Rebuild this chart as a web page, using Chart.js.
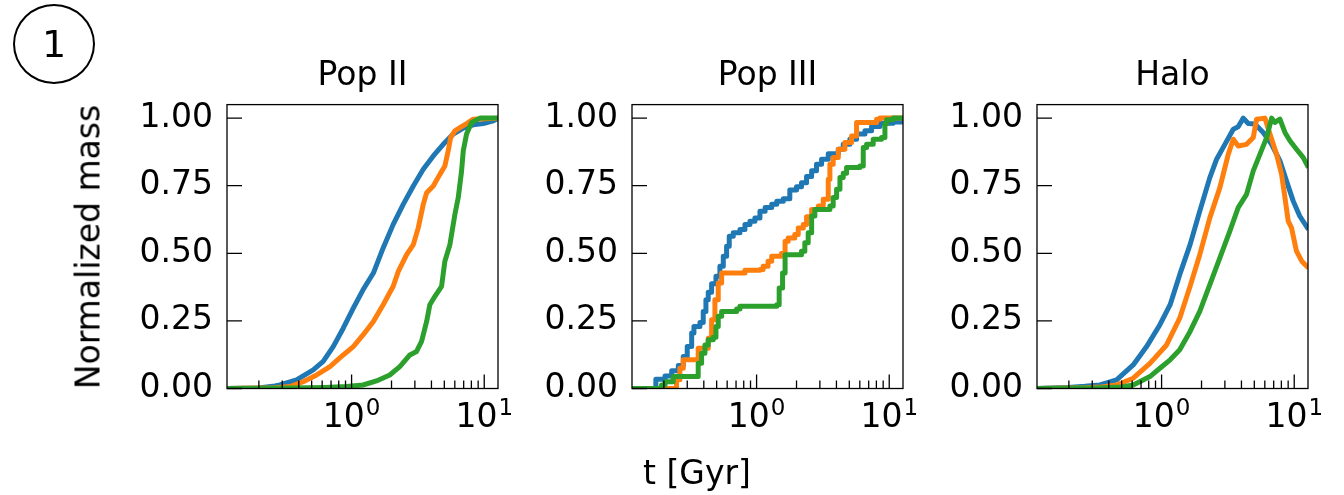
<!DOCTYPE html>
<html>
<head>
<meta charset="utf-8">
<script src="https://cdn.jsdelivr.net/npm/chart.js@4.4.1/dist/chart.umd.min.js"></script>
<style>
    html, body { margin: 0; padding: 0; background: #fff; }
    #wrap { position: relative; width: 1344px; height: 495px; overflow: hidden; font-family: 'DejaVu Sans', sans-serif; color: #000; }
    #wrap canvas { position: absolute; left: 0; top: 0; }
    .badge { position: absolute; left: 13px; top: 4px; width: 78px; height: 76px; border: 2px solid #000; border-radius: 50%; text-align: center; line-height: 76px; font-size: 38px; }
    .ylab { position: absolute; left: 88px; top: 247px; font-size: 33px; white-space: nowrap; transform: translate(-50%, -50%) rotate(-90deg); }
    .xlab { position: absolute; left: 697px; top: 472px; font-size: 33px; white-space: nowrap; transform: translate(-50%, -50%); }
</style>
</head>
<body>
<div id="wrap">
    <canvas id="popII" width="1344" height="495"></canvas>
    <canvas id="popIII" width="1344" height="495"></canvas>
    <canvas id="halo" width="1344" height="495"></canvas>
    <div class="badge">1</div>
    <div class="ylab">Normalized mass</div>
    <div class="xlab">t [Gyr]</div>
</div>
<script>
// Normalized mass vs time, three panels

// Axis ticks
const yTickValues = [0, 0.25, 0.5, 0.75, 1.0];
const xMajorTicks = [1, 10];
const xMajorExponents = ['0', '1'];
const xMinorTicks = [0.2, 0.3, 0.4, 0.5, 0.6, 0.7, 0.8, 0.9, 2, 3, 4, 5, 6, 7, 8, 9];
const panelTitles = ['Pop II', 'Pop III', 'Halo'];

// Pop II
const p2BlueT = [0.111, 0.198, 0.264, 0.288, 0.385, 0.514, 0.611, 0.727, 0.865, 1.03, 1.22, 1.46, 1.73, 2.06, 2.45, 2.92, 3.47, 4.13, 4.91, 5.84, 6.95, 8.26, 9.83, 11.7, 12.8];
const p2BlueY = [0, 0.002, 0.009, 0.013, 0.032, 0.069, 0.10, 0.155, 0.223, 0.297, 0.365, 0.427, 0.52, 0.607, 0.681, 0.749, 0.811, 0.86, 0.903, 0.941, 0.963, 0.975, 0.98, 0.99, 1.0];
const p2OrangeT = [0.111, 0.264, 0.343, 0.432, 0.545, 0.687, 0.865, 1.03, 1.22, 1.46, 1.73, 2.06, 2.25, 2.60, 2.92, 3.18, 3.47, 3.68, 4.13, 4.63, 5.05, 5.35, 5.58, 6.01, 6.56, 7.36, 8.26, 12.8];
const p2OrangeY = [0, 0.003, 0.007, 0.025, 0.05, 0.081, 0.124, 0.155, 0.198, 0.248, 0.31, 0.378, 0.433, 0.495, 0.532, 0.594, 0.681, 0.724, 0.749, 0.792, 0.823, 0.879, 0.928, 0.953, 0.965, 0.98, 0.996, 1.0];
const p2GreenT = [0.111, 0.353, 0.63, 0.917, 1.22, 1.54, 1.94, 2.31, 2.75, 3.09, 3.37, 3.68, 3.89, 4.25, 4.77, 5.05, 5.51, 6.01, 6.37, 6.75, 6.95, 7.36, 8.03, 9.28, 12.8];
const p2GreenY = [0, 0.002, 0.004, 0.007, 0.013, 0.028, 0.05, 0.081, 0.124, 0.137, 0.174, 0.248, 0.31, 0.341, 0.378, 0.471, 0.532, 0.644, 0.706, 0.805, 0.879, 0.941, 0.984, 1.0, 1.0];

// Pop III (step curves)
const p3BlueT = [0.111, 0.174, 0.204, 0.229, 0.257, 0.280, 0.300, 0.324, 0.337, 0.374, 0.396, 0.415, 0.432, 0.458, 0.494, 0.529, 0.561, 0.594, 0.622, 0.667, 0.749, 0.817, 0.891, 0.971, 1.06, 1.16, 1.30, 1.42, 1.59, 1.78, 2.00, 2.18, 2.38, 2.60, 2.83, 3.09, 3.47, 4.13, 4.50, 5.05, 5.67, 6.56, 7.36, 8.51, 10.7, 12.4, 12.8];
const p3BlueY = [0, 0.034, 0.046, 0.066, 0.085, 0.118, 0.155, 0.205, 0.229, 0.244, 0.285, 0.328, 0.356, 0.387, 0.415, 0.452, 0.489, 0.526, 0.563, 0.576, 0.588, 0.607, 0.619, 0.631, 0.656, 0.669, 0.681, 0.693, 0.702, 0.734, 0.746, 0.761, 0.784, 0.805, 0.829, 0.848, 0.868, 0.885, 0.903, 0.922, 0.941, 0.953, 0.969, 0.981, 0.986, 0.996, 1.0];
const p3OrangeT = [0.111, 0.249, 0.264, 0.280, 0.363, 0.432, 0.458, 0.485, 0.514, 0.545, 0.817, 1.06, 1.12, 1.22, 1.30, 1.54, 1.64, 1.73, 1.94, 2.06, 2.25, 2.38, 2.60, 2.92, 3.18, 3.47, 3.57, 3.78, 4.13, 4.63, 5.20, 5.67, 8.03, 8.51, 12.8];
const p3OrangeY = [0, 0.032, 0.075, 0.106, 0.149, 0.186, 0.254, 0.328, 0.39, 0.427, 0.437, 0.44, 0.452, 0.471, 0.489, 0.499, 0.545, 0.557, 0.57, 0.594, 0.607, 0.635, 0.662, 0.675, 0.70, 0.774, 0.829, 0.854, 0.885, 0.91, 0.934, 0.984, 0.996, 1.0, 1.0];
const p3GreenT = [0.111, 0.192, 0.204, 0.235, 0.363, 0.385, 0.408, 0.432, 0.471, 0.494, 0.514, 0.545, 0.707, 0.749, 1.42, 1.48, 1.57, 1.64, 2.18, 2.31, 2.45, 2.60, 2.75, 3.57, 3.78, 4.01, 4.25, 4.50, 4.77, 6.01, 6.37, 6.75, 7.57, 8.75, 9.28, 9.55, 10.7, 12.8];
const p3GreenY = [0, 0.013, 0.025, 0.044, 0.093, 0.13, 0.161, 0.18, 0.19, 0.229, 0.267, 0.285, 0.294, 0.304, 0.31, 0.372, 0.427, 0.495, 0.508, 0.539, 0.576, 0.638, 0.662, 0.675, 0.706, 0.737, 0.78, 0.796, 0.817, 0.823, 0.891, 0.903, 0.922, 0.928, 0.978, 0.994, 1.0, 1.0];

// Halo
const haloBlueT = [0.111, 0.198, 0.264, 0.343, 0.458, 0.611, 0.771, 0.971, 1.16, 1.37, 1.64, 1.94, 2.31, 2.60, 3.00, 3.47, 3.78, 4.13, 4.50, 5.05, 5.84, 6.75, 7.80, 8.75, 9.83, 11.0, 12.8];
const haloBlueY = [0, 0.004, 0.008, 0.013, 0.032, 0.087, 0.155, 0.236, 0.31, 0.421, 0.532, 0.656, 0.78, 0.848, 0.903, 0.959, 0.968, 1.0, 0.98, 0.978, 0.947, 0.903, 0.842, 0.767, 0.693, 0.638, 0.588];
const haloOrangeT = [0.111, 0.264, 0.353, 0.458, 0.611, 0.817, 1.09, 1.37, 1.64, 1.94, 2.31, 2.75, 3.18, 3.47, 3.78, 4.37, 4.91, 5.20, 6.01, 6.56, 7.36, 8.03, 8.51, 9.01, 9.55, 10.4, 11.4, 12.8];
const haloOrangeY = [0, 0.003, 0.006, 0.013, 0.038, 0.093, 0.161, 0.26, 0.378, 0.495, 0.631, 0.743, 0.866, 0.922, 0.897, 0.903, 0.928, 0.996, 1.0, 0.941, 0.866, 0.792, 0.706, 0.619, 0.594, 0.508, 0.471, 0.446];
const haloGreenT = [0.111, 0.353, 0.499, 0.611, 0.817, 0.971, 1.16, 1.37, 1.64, 1.94, 2.31, 2.75, 3.27, 3.78, 4.37, 4.91, 5.51, 6.19, 6.75, 7.15, 7.80, 8.51, 9.28, 10.4, 11.7, 12.8];
const haloGreenY = [0, 0.003, 0.006, 0.013, 0.044, 0.075, 0.106, 0.143, 0.211, 0.285, 0.384, 0.483, 0.582, 0.669, 0.718, 0.805, 0.866, 0.928, 1.0, 0.984, 0.996, 0.947, 0.916, 0.885, 0.854, 0.817];

// Layout
const X_MIN = 0.115, X_MAX = 12.7;
const Y_MIN = 0, Y_MAX = 1.05;
const BOX_BOTTOM = 388.5, BOX_W = 271;
const Y_AXIS_W = 100, X_AXIS_H = 50;
const colors = ['#1f77b4', '#ff7f0e', '#2ca02c'];
const FONT = "'DejaVu Sans', sans-serif";

Chart.defaults.font.family = FONT;
Chart.defaults.color = '#000';

function pts(t, y) {
    return t.map((v, i) => ({ x: v, y: y[i] }));
}

// Matplotlib-style frame, inward ticks and 10^n labels
const insideTicks = {
    id: 'insideTicks',
    afterDraw(chart) {
        const { ctx, chartArea: a, scales: { x, y } } = chart;
        ctx.save();
        ctx.strokeStyle = '#000';
        ctx.lineWidth = 1.3;
        ctx.beginPath();
        yTickValues.forEach(v => {
            const py = y.getPixelForValue(v);
            ctx.moveTo(a.left, py);
            ctx.lineTo(a.left + 15, py);
        });
        xMajorTicks.forEach(v => {
            const px = x.getPixelForValue(v);
            ctx.moveTo(px, a.bottom);
            ctx.lineTo(px, a.bottom - 14);
        });
        xMinorTicks.forEach(v => {
            const px = x.getPixelForValue(v);
            ctx.moveTo(px, a.bottom);
            ctx.lineTo(px, a.bottom - 8);
        });
        ctx.stroke();
        ctx.strokeRect(a.left, a.top, a.right - a.left, a.bottom - a.top);

        // tick labels with superscript exponent
        ctx.fillStyle = '#000';
        ctx.textBaseline = 'alphabetic';
        ctx.textAlign = 'left';
        xMajorTicks.forEach((v, i) => {
            const px = x.getPixelForValue(v);
            ctx.font = '33px ' + FONT;
            const wBase = ctx.measureText('10').width;
            ctx.font = '23px ' + FONT;
            const wExp = ctx.measureText(xMajorExponents[i]).width;
            const left = px - (wBase + wExp + 1) / 2;
            ctx.font = '33px ' + FONT;
            ctx.fillText('10', left, a.bottom + 38.5);
            ctx.font = '23px ' + FONT;
            ctx.fillText(xMajorExponents[i], left + wBase + 1, a.bottom + 26.5);
        });
        ctx.restore();
    }
};

function makePanel(id, title, boxLeft, series, stepped) {
    const ctx = document.getElementById(id).getContext('2d');
    return new Chart(ctx, {
        type: 'line',
        data: {
            datasets: series.map((s, i) => ({
                data: pts(s[0], s[1]),
                borderColor: colors[i],
                borderWidth: 5,
                borderJoinStyle: 'round',
                pointRadius: 0,
                tension: 0,
                stepped: stepped,
                order: 3 - i
            }))
        },
        options: {
            responsive: false,
            animation: false,
            events: [],
            layout: {
                padding: {
                    top: 57,
                    left: boxLeft - Y_AXIS_W,
                    right: 1344 - (boxLeft + BOX_W),
                    bottom: 495 - BOX_BOTTOM - X_AXIS_H
                }
            },
            scales: {
                x: {
                    type: 'logarithmic',
                    min: X_MIN,
                    max: X_MAX,
                    grid: { display: false, drawTicks: false },
                    border: { display: false },
                    afterBuildTicks: scale => { scale.ticks = xMajorTicks.map(v => ({ value: v })); },
                    afterFit: scale => { scale.height = X_AXIS_H; },
                    ticks: { display: false }
                },
                y: {
                    type: 'linear',
                    min: Y_MIN,
                    max: Y_MAX,
                    grid: { display: false, drawTicks: false },
                    border: { display: false },
                    afterBuildTicks: scale => { scale.ticks = yTickValues.map(v => ({ value: v })); },
                    afterFit: scale => { scale.width = Y_AXIS_W; },
                    ticks: {
                        padding: 14,
                        font: { size: 33 },
                        callback: v => v.toFixed(2)
                    }
                }
            },
            plugins: {
                legend: { display: false },
                tooltip: { enabled: false },
                title: {
                    display: true,
                    fullSize: false,
                    text: title,
                    color: '#000',
                    font: { size: 33, weight: 'normal' },
                    padding: { top: 0, bottom: 8 }
                }
            }
        },
        plugins: [insideTicks]
    });
}

document.addEventListener('DOMContentLoaded', function() {
    makePanel('popII', panelTitles[0], 227, [[p2BlueT, p2BlueY], [p2OrangeT, p2OrangeY], [p2GreenT, p2GreenY]], false);
    makePanel('popIII', panelTitles[1], 632, [[p3BlueT, p3BlueY], [p3OrangeT, p3OrangeY], [p3GreenT, p3GreenY]], true);
    makePanel('halo', panelTitles[2], 1037, [[haloBlueT, haloBlueY], [haloOrangeT, haloOrangeY], [haloGreenT, haloGreenY]], false);
});
</script>
</body>
</html>
